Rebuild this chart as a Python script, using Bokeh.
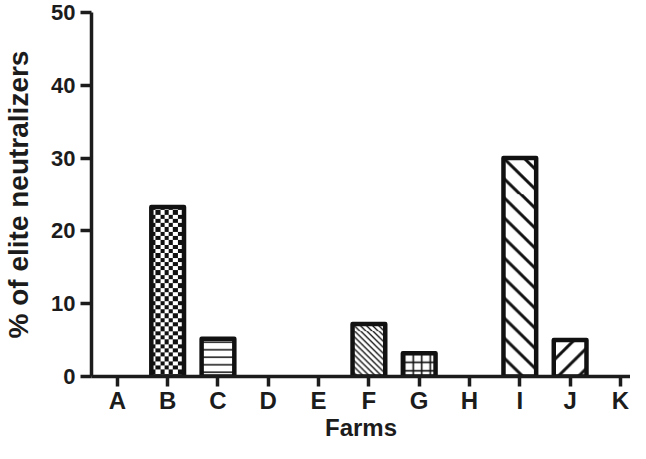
import numpy as np
from bokeh.plotting import figure
from bokeh.models import Range1d, FixedTicker, ColumnDataSource, CDSView, BooleanFilter
from bokeh.embed import file_html
from bokeh.resources import INLINE

# ---- data ----
farms = ["A", "B", "C", "D", "E", "F", "G", "H", "I", "J", "K"]
elite_pct = [0, 23.3, 5.2, 0, 0, 7.2, 3.2, 0, 30.0, 5.0, 0]
y_ticks = [0, 10, 20, 30, 40, 50]
x_title = "Farms"
y_title = "% of elite neutralizers"

# ---- styles ----
# Bokeh hatch fills: pattern, scale, weight
hatch_style = {
    "C": ("horizontal_line", 7.5, 1.5),
    "G": ("cross", 8.5, 1.6),
}
# texture fills (drawn as images over the bar): kind, spacing px, line thickness px
texture_style = {
    "B": ("checker", 4.3, 0.0),
    "F": ("back", 6.0, 1.3),
    "I": ("back", 20.0, 3.0),
    "J": ("fwd", 20.0, 3.0),
}

# ---- layout constants ----
W, H = 630, 443
LEFT, TOP, BOTTOM = 88, 12, 377
BAR_W = 0.65
x0, x1 = -0.514, 10.2
px_x = (W - LEFT) / (x1 - x0)
px_y = (BOTTOM - TOP) / 50.0

FONT = "Liberation Sans"
INK = "#1c1c1c"
BAR_INK = "#111111"
DARK = 17


def texture(kind, wpx, hpx, spacing, thick):
    yy = np.arange(hpx)[:, None] + 0.5 + np.zeros((1, wpx))
    xx = np.arange(wpx)[None, :] + 0.5 + np.zeros((hpx, 1))
    if kind == "checker":
        dark = ((np.floor(yy / spacing) + np.floor(xx / spacing)) % 2 == 0).astype(float)
    else:
        u = xx - yy if kind == "back" else xx + yy
        m = np.mod(u, spacing)
        d = np.minimum(m, spacing - m) / np.sqrt(2)
        dark = np.clip(thick / 2 + 0.5 - d, 0, 1)
    shade = np.round(255 - dark * (255 - DARK)).astype(np.uint8)[::-1]
    img = np.empty((hpx, wpx), dtype=np.uint32)
    rgba = img.view(dtype=np.uint8).reshape((hpx, wpx, 4))
    rgba[..., 0] = shade
    rgba[..., 1] = shade
    rgba[..., 2] = shade
    rgba[..., 3] = 255
    return img


idx = list(range(len(farms)))
src = ColumnDataSource(dict(
    x=idx,
    top=elite_pct,
    pat=[hatch_style.get(f, (" ", 8, 1))[0] for f in farms],
    scl=[hatch_style.get(f, (" ", 8, 1))[1] for f in farms],
    wgt=[hatch_style.get(f, (" ", 8, 1))[2] for f in farms],
))
view = CDSView(filter=BooleanFilter([v > 0 for v in elite_pct]))

p = figure(width=W, height=H, output_backend="svg", toolbar_location=None,
           x_range=Range1d(x0, x1), y_range=Range1d(0, 50),
           min_border_left=LEFT, min_border_right=0, min_border_top=TOP,
           min_border_bottom=H - BOTTOM)
p.outline_line_color = None
p.grid.visible = False
p.background_fill_color = "white"
p.border_fill_color = "white"

# fills + simple hatches
p.vbar(x="x", top="top", width=BAR_W, source=src, view=view,
       fill_color="white", line_color=None,
       hatch_pattern="pat", hatch_scale="scl", hatch_weight="wgt", hatch_color=BAR_INK)

# textured fills
for f, (kind, spacing, thick) in texture_style.items():
    i = farms.index(f)
    v = elite_pct[i]
    if v <= 0:
        continue
    wpx = max(1, int(round(BAR_W * px_x)))
    hpx = max(1, int(round(v * px_y)))
    p.image_rgba(image=[texture(kind, wpx, hpx, spacing, thick)],
                 x=i - BAR_W / 2, y=0, dw=BAR_W, dh=v)

# outlines
p.vbar(x="x", top="top", width=BAR_W, source=src, view=view,
       fill_color=None, line_color=BAR_INK, line_width=4.5, line_join="round")

# axes
for ax in (p.xaxis[0], p.yaxis[0]):
    ax.axis_line_width = 3.5
    ax.axis_line_color = INK
    ax.major_tick_line_width = 3.5
    ax.major_tick_line_color = INK
    ax.major_tick_out = 11
    ax.major_tick_in = 0
    ax.minor_tick_line_color = None
    ax.major_label_text_font = FONT
    ax.major_label_text_font_style = "bold"
    ax.major_label_text_color = INK
    ax.major_label_text_line_height = 1.0
    ax.axis_label_text_font = FONT
    ax.axis_label_text_font_style = "bold"
    ax.axis_label_text_color = INK
    ax.axis_label_text_line_height = 1.0

p.xaxis.ticker = FixedTicker(ticks=idx)
p.xaxis.major_label_overrides = {i: f for i, f in zip(idx, farms)}
p.xaxis.major_tick_out = 10
p.xaxis.major_label_text_font_size = "24px"
p.xaxis.major_label_standoff = 0
p.xaxis.axis_label = x_title
p.xaxis.axis_label_text_font_size = "24px"
p.xaxis.axis_label_standoff = -3

p.yaxis.ticker = FixedTicker(ticks=y_ticks)
p.yaxis.major_label_text_font_size = "22px"
p.yaxis.major_label_standoff = 5
p.yaxis.axis_label = y_title
p.yaxis.axis_label_text_font_size = "28px"
p.yaxis.axis_label_standoff = 14

open("out.html", "w").write(file_html(p, INLINE))
